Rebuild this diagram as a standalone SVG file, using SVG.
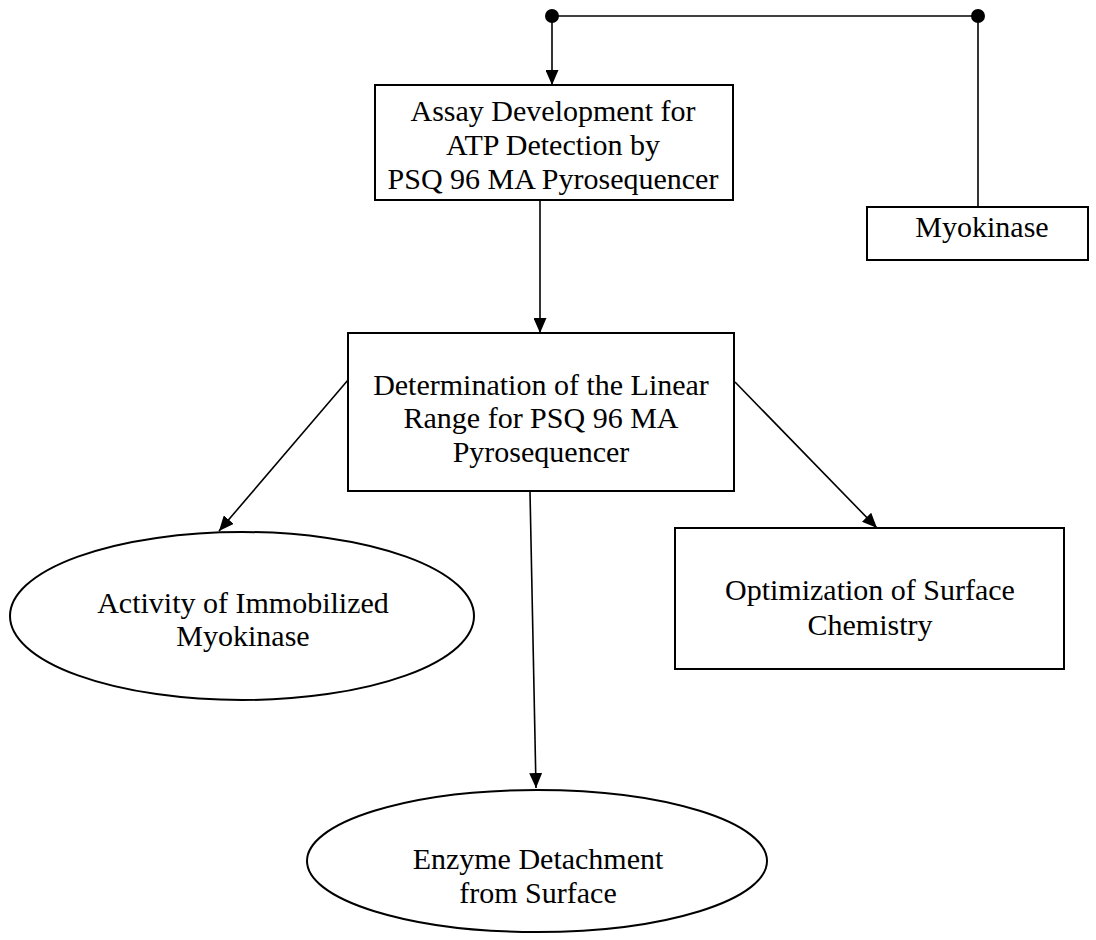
<svg xmlns="http://www.w3.org/2000/svg" width="1096" height="940" viewBox="0 0 1096 940">
  <style>
    .box { fill: #ffffff; stroke: #000000; stroke-width: 2; }
    .edge { fill: none; stroke: #000000; stroke-width: 1.6; }
    .lbl { font-family: "Liberation Serif", "Times New Roman", serif; font-size: 30px; fill: #000000; text-anchor: middle; }
  </style>
  <defs>
    <marker id="arrow" viewBox="0 0 15 13" refX="15" refY="6.5" markerWidth="15" markerHeight="13" markerUnits="userSpaceOnUse" orient="auto">
      <path d="M0,0 L15,6.5 L0,13 z" fill="#000000"/>
    </marker>
  </defs>
  <rect x="0" y="0" width="1096" height="940" fill="#ffffff"/>

  <g id="connectors">
    <line class="edge" x1="552" y1="16" x2="978" y2="16"/>
    <line class="edge" x1="552" y1="16" x2="552" y2="85" marker-end="url(#arrow)"/>
    <line class="edge" x1="978" y1="16" x2="978" y2="207"/>
    <line class="edge" x1="540" y1="200" x2="540" y2="333" marker-end="url(#arrow)"/>
    <line class="edge" x1="348" y1="380" x2="219" y2="531" marker-end="url(#arrow)"/>
    <line class="edge" x1="735" y1="382" x2="877" y2="528" marker-end="url(#arrow)"/>
    <line class="edge" x1="530" y1="492" x2="536" y2="788" marker-end="url(#arrow)"/>
    <circle cx="552" cy="16" r="7" fill="#000000"/>
    <circle cx="978" cy="16" r="7" fill="#000000"/>
  </g>

  <g id="assay">
    <rect class="box" x="375" y="85" width="358" height="115"/>
    <text class="lbl" x="553" y="121">Assay Development for</text>
    <text class="lbl" x="553" y="155">ATP Detection  by</text>
    <text class="lbl" x="553" y="189">PSQ 96 MA Pyrosequencer</text>
  </g>

  <g id="myokinase">
    <rect class="box" x="867" y="207" width="221" height="53"/>
    <text class="lbl" x="982" y="237">Myokinase</text>
  </g>

  <g id="linear-range">
    <rect class="box" x="348" y="333" width="386" height="158"/>
    <text class="lbl" x="541" y="395">Determination of the Linear</text>
    <text class="lbl" x="541" y="428">Range for PSQ 96 MA</text>
    <text class="lbl" x="541" y="462">Pyrosequencer</text>
  </g>

  <g id="activity">
    <ellipse class="box" cx="242" cy="616" rx="232" ry="84"/>
    <text class="lbl" x="243" y="613">Activity of Immobilized</text>
    <text class="lbl" x="243" y="646">Myokinase</text>
  </g>

  <g id="optimization">
    <rect class="box" x="675" y="528" width="389" height="141"/>
    <text class="lbl" x="870" y="600">Optimization of Surface</text>
    <text class="lbl" x="870" y="635">Chemistry</text>
  </g>

  <g id="detachment">
    <ellipse class="box" cx="537" cy="861" rx="230" ry="71"/>
    <text class="lbl" x="538" y="869">Enzyme Detachment</text>
    <text class="lbl" x="538" y="903">from Surface</text>
  </g>
</svg>
